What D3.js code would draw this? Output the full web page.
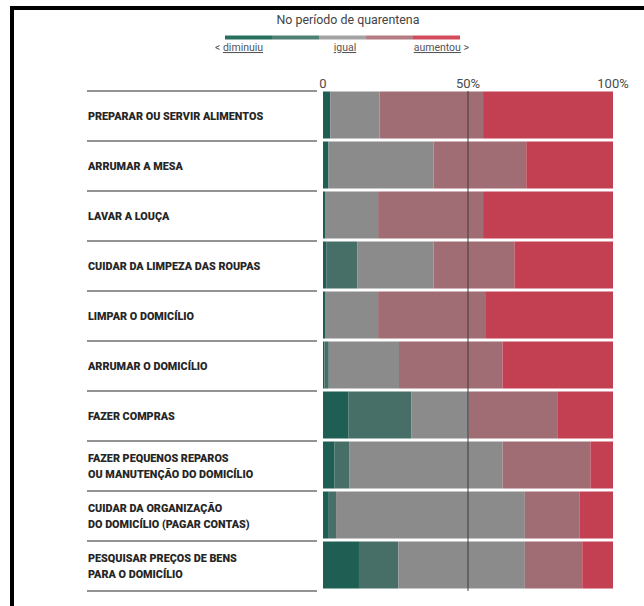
<!DOCTYPE html>
<html>
<head>
<meta charset="utf-8">
<script src="https://cdn.jsdelivr.net/npm/d3@7"></script>
<style>
  body { margin: 0; background: #fff; }
  svg { display: block; font-family: Roboto, "Noto Sans", sans-serif; }
</style>
</head>
<body>
<div id="chart"></div>
<script>
// Tarefas domésticas - mudança no período de quarentena (% das respostas)
const tarefas = [
  ["PREPARAR OU SERVIR ALIMENTOS"],
  ["ARRUMAR A MESA"],
  ["LAVAR A LOUÇA"],
  ["CUIDAR DA LIMPEZA DAS ROUPAS"],
  ["LIMPAR O DOMICÍLIO"],
  ["ARRUMAR O DOMICÍLIO"],
  ["FAZER COMPRAS"],
  ["FAZER PEQUENOS REPAROS", "OU MANUTENÇÃO DO DOMICÍLIO"],
  ["CUIDAR DA ORGANIZAÇÃO", "DO DOMICÍLIO (PAGAR CONTAS)"],
  ["PESQUISAR PREÇOS DE BENS", "PARA O DOMICÍLIO"],
];

const diminuiuMuito = [2.5, 1.9, 0.9, 1.1, 0.9, 0.5, 8.7, 4.0, 2.0, 12.4];
const diminuiu      = [0.0, 0.0, 0.0, 10.7, 0.0, 1.5, 21.7, 5.0, 2.5, 13.6];
const igual         = [17.0, 36.2, 18.1, 26.3, 18.1, 24.2, 19.9, 52.9, 65.1, 43.6];
const aumentou      = [35.7, 32.0, 36.2, 27.9, 37.2, 35.7, 30.7, 30.3, 18.8, 19.8];
const aumentouMuito = [44.8, 29.9, 44.8, 34.0, 43.8, 38.1, 19.0, 7.8, 11.6, 10.6];

const xTicks = [0, 50, 100];
const xTickLabels = ["0", "50%", "100%"];

const legendTitle = "No período de quarentena";

const barColors = ["#1f5e53", "#476f68", "#8b8b8b", "#a06d74", "#c24052"];
const legendColors = ["#27705f", "#4e8074", "#a3a3a3", "#b47d84", "#d44c5c"];

const W = 644, H = 606;

const svg = d3.select("#chart").append("svg")
  .attr("width", W)
  .attr("height", H);

// moldura preta
svg.append("rect").attr("x", 10).attr("y", 6).attr("width", W - 10).attr("height", 4).attr("fill", "#000");
svg.append("rect").attr("x", 10).attr("y", 6).attr("width", 4).attr("height", H - 6).attr("fill", "#000");

const keys = ["diminuiuMuito", "diminuiu", "igual", "aumentou", "aumentouMuito"];
const rows = tarefas.map((t, i) => ({
  id: i,
  label: t,
  diminuiuMuito: diminuiuMuito[i],
  diminuiu: diminuiu[i],
  igual: igual[i],
  aumentou: aumentou[i],
  aumentouMuito: aumentouMuito[i],
}));

const x = d3.scaleLinear().domain([0, 100]).range([323, 613]);
const y = d3.scaleBand().domain(rows.map((d) => d.id)).range([91, 591]);
const color = d3.scaleOrdinal().domain(keys).range(barColors);

const stacked = d3.stack().keys(keys)(rows);

// linhas separadoras à esquerda
const sepYs = rows.map((d) => y(d.id)).concat([y.range()[1]]);
svg.append("g")
  .selectAll("line")
  .data(sepYs)
  .join("line")
  .attr("x1", 87)
  .attr("x2", 317)
  .attr("y1", (d) => d)
  .attr("y2", (d) => d)
  .attr("stroke", "#6f6f6f")
  .attr("stroke-width", 1.5);

// barras
svg.append("g")
  .selectAll("g")
  .data(stacked)
  .join("g")
  .attr("fill", (s) => color(s.key))
  .selectAll("rect")
  .data((s) => s)
  .join("rect")
  .attr("x", (d) => x(d[0]))
  .attr("width", (d) => x(d[1]) - x(d[0]))
  .attr("y", (d) => y(d.data.id) + 0.5)
  .attr("height", y.bandwidth() - 3);

// linha de 50%
svg.append("line")
  .attr("x1", x(50))
  .attr("x2", x(50))
  .attr("y1", y.range()[0])
  .attr("y2", y.range()[1])
  .attr("stroke", "#3a3a3a")
  .attr("stroke-opacity", 0.75)
  .attr("stroke-width", 1.3);

// eixo x (rótulos no topo)
svg.append("g")
  .selectAll("text")
  .data(xTicks)
  .join("text")
  .attr("x", (d) => x(d))
  .attr("y", 88)
  .attr("text-anchor", "middle")
  .attr("font-size", 13)
  .attr("fill", "#4a4a4a")
  .text((d, i) => xTickLabels[i]);

// rótulos das tarefas
const labels = svg.append("g")
  .selectAll("text")
  .data(rows)
  .join("text")
  .attr("x", 88)
  .attr("font-size", 10.8)
  .attr("font-weight", 900)
  .attr("fill", "#262626");

labels.each(function (d) {
  const n = d.label.length;
  const cy = y(d.id) + y.bandwidth() / 2;
  d3.select(this)
    .selectAll("tspan")
    .data(d.label)
    .join("tspan")
    .attr("x", 88)
    .attr("y", (t, j) => cy + 4 + (j - (n - 1) / 2) * 16)
    .text((t) => t);
});

// legenda
const leg = d3.scaleBand().domain(keys).range([225, 460]);

svg.append("text")
  .attr("x", 348)
  .attr("y", 24)
  .attr("text-anchor", "middle")
  .attr("font-size", 12.4)
  .attr("fill", "#444")
  .text(legendTitle);

svg.append("g")
  .selectAll("rect")
  .data(keys)
  .join("rect")
  .attr("x", (k) => leg(k))
  .attr("width", leg.bandwidth())
  .attr("y", 35.5)
  .attr("height", 4)
  .attr("fill", (k, i) => legendColors[i]);

const legLabels = [
  { x: 215, anchor: "start", parts: [["< ", false], ["diminuiu", true]] },
  { x: 345, anchor: "middle", parts: [["igual", true]] },
  { x: 469, anchor: "end", parts: [["aumentou", true], [" >", false]] },
];

svg.append("g")
  .selectAll("text")
  .data(legLabels)
  .join("text")
  .attr("x", (d) => d.x)
  .attr("y", 51)
  .attr("text-anchor", (d) => d.anchor)
  .attr("font-size", 10.5)
  .attr("fill", "#555")
  .selectAll("tspan")
  .data((d) => d.parts)
  .join("tspan")
  .attr("text-decoration", (p) => (p[1] ? "underline" : null))
  .text((p) => p[0]);
</script>
</body>
</html>
